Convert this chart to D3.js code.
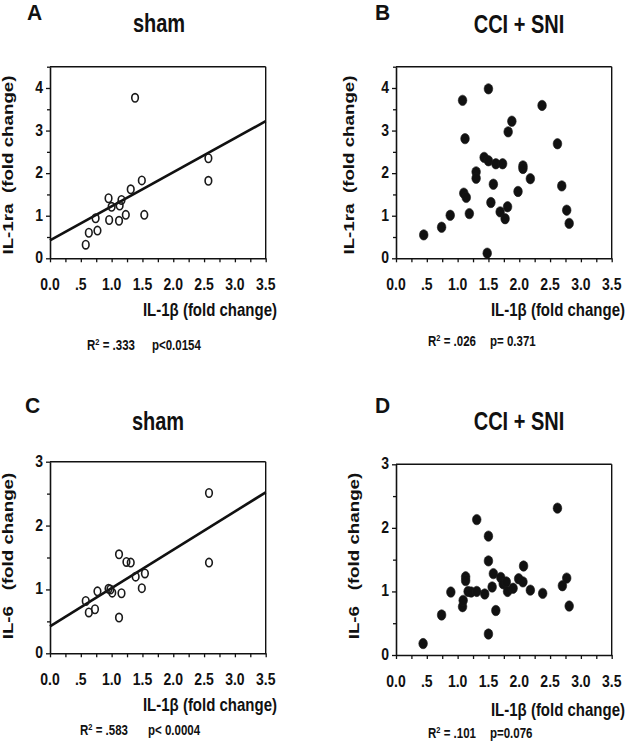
<!DOCTYPE html>
<html><head><meta charset="utf-8">
<script src="https://cdn.jsdelivr.net/npm/d3@7"></script>
<style>
body{margin:0;background:#fff}
svg{display:block}
text{font-family:"Liberation Sans",Arial,Helvetica,sans-serif;font-weight:bold;fill:#111;white-space:pre}
</style>
</head><body>
<svg id="chart" width="627" height="743"></svg>
<script>
// ---------- data ----------
const xTickValues = [0, 0.5, 1, 1.5, 2, 2.5, 3, 3.5];
const xTickLabels = ["0.0", ".5", "1.0", "1.5", "2.0", "2.5", "3.0", "3.5"];
const yTicksIL1ra = [0, 1, 2, 3, 4];
const yTicksIL6 = [0, 1, 2, 3];

// A: sham, IL-1β vs IL-1ra
const aX = [1.38, 2.57, 2.57, 1.49, 1.31, 0.95, 1.16, 1.00, 1.13, 0.74, 0.96, 1.12, 1.23, 1.53, 0.63, 0.77, 0.58];
const aY = [3.77, 2.35, 1.82, 1.83, 1.62, 1.41, 1.37, 1.21, 1.24, 0.94, 0.90, 0.88, 1.02, 1.02, 0.60, 0.65, 0.32];
const aFit = [0.42, 0.80]; // intercept, slope

// B: CCI + SNI, IL-1β vs IL-1ra
const bX = [0.45, 0.74, 0.88, 1.08, 1.12, 1.10, 1.14, 1.19, 1.30, 1.30, 1.50, 1.43, 1.50, 1.62, 1.73, 1.58, 1.54, 1.48, 1.69, 1.77, 1.81, 1.82, 1.88, 1.98, 2.06, 2.06, 2.18, 2.37, 2.62, 2.69, 2.77, 2.81];
const bY = [0.55, 0.73, 1.01, 3.71, 2.81, 1.53, 1.43, 1.05, 2.03, 1.88, 3.98, 2.37, 2.29, 2.22, 2.22, 1.74, 1.31, 0.12, 1.09, 0.93, 1.21, 2.97, 3.22, 1.57, 2.17, 2.11, 1.87, 3.59, 2.69, 1.70, 1.13, 0.82];

// C: sham, IL-1β vs IL-6
const cX = [2.58, 2.58, 1.12, 1.24, 1.31, 1.54, 1.39, 1.49, 0.95, 0.98, 1.01, 1.16, 0.77, 0.58, 0.63, 0.73, 1.12];
const cY = [2.51, 1.42, 1.55, 1.43, 1.42, 1.25, 1.20, 1.02, 1.01, 1.00, 0.95, 0.94, 0.97, 0.82, 0.64, 0.69, 0.56];
const cFit = [0.42, 0.60];

// D: CCI + SNI, IL-1β vs IL-6
const dX = [0.44, 0.74, 0.89, 1.08, 1.09, 1.13, 1.13, 1.17, 1.22, 1.31, 1.31, 1.44, 1.50, 1.50, 1.50, 1.56, 1.58, 1.62, 1.70, 1.74, 1.79, 1.81, 1.90, 1.99, 2.07, 2.06, 2.18, 2.38, 2.62, 2.70, 2.77, 2.81];
const dY = [0.18, 0.63, 0.99, 0.76, 0.86, 1.23, 1.17, 1.00, 0.99, 2.13, 1.00, 0.96, 1.87, 1.48, 0.33, 1.07, 1.28, 0.70, 1.22, 1.12, 1.15, 1.00, 1.05, 1.20, 1.40, 1.15, 1.02, 0.97, 2.31, 1.09, 1.21, 0.77];

const panelLetters = ["A", "B", "C", "D"];
const panelTitles = ["sham", "CCI + SNI", "sham", "CCI + SNI"];
const yTitles = ["IL-1ra  (fold change)", "IL-1ra  (fold change)", "IL-6   (fold change)", "IL-6   (fold change)"];
const xTitle = "IL-1β (fold change)";
const r2Labels = [".333", ".026", ".583", ".101"];
const pLabels = ["p<0.0154", "p= 0.371", "p< 0.0004", "p=0.076"];

// ---------- layout ----------
const layout = [
  {left: 50, right: 265.7, top: 66.7, bottom: 258.3, ymax: 4.5, yt: yTicksIL1ra, xs: aX, ys: aY, fit: aFit, filled: false,
   letter: [27, 20], title: [159, 32], ytl: [12.5, 165], xtl: [277, 316], stats: [87, 152, 350]},
  {left: 396, right: 611.7, top: 66.7, bottom: 258.3, ymax: 4.5, yt: yTicksIL1ra, xs: bX, ys: bY, fit: null, filled: true,
   letter: [375, 20], title: [519, 33], ytl: [354, 165], xtl: [625, 316], stats: [428, 490, 346]},
  {left: 50, right: 265.7, top: 461.7, bottom: 653.3, ymax: 3, yt: yTicksIL6, xs: cX, ys: cY, fit: cFit, filled: false,
   letter: [25, 413], title: [158, 430], ytl: [12.5, 556], xtl: [277, 711], stats: [80, 148, 735]},
  {left: 396, right: 611.7, top: 464.3, bottom: 655, ymax: 3, yt: yTicksIL6, xs: dX, ys: dY, fit: null, filled: true,
   letter: [375, 413], title: [519, 430], ytl: [359, 556], xtl: [625, 716], stats: [428, 490, 738]}
];

const SY = 1.25; // vertical stretch of lettering in the original
const svg = d3.select("#chart");
svg.append("rect").attr("width", 627).attr("height", 743).attr("fill", "#fff");

function stext(g, x, y, str, size, anchor, sy, rotate) {
  const tr = rotate
    ? `translate(${x},${y}) rotate(-90) scale(${sy},1)`
    : `translate(${x},${y}) scale(1,${sy})`;
  return g.append("text").attr("transform", tr).attr("font-size", size)
    .attr("text-anchor", anchor).attr("xml:space", "preserve").text(str);
}

layout.forEach((L, i) => {
  const g = svg.append("g");
  const x = d3.scaleLinear().domain([0, 3.5]).range([L.left, L.right]);
  const y = d3.scaleLinear().domain([0, L.ymax]).range([L.bottom, L.top]);

  // frame (top + right)
  g.append("line").attr("x1", L.left).attr("x2", L.right).attr("y1", L.top).attr("y2", L.top)
    .attr("stroke", "#111").attr("stroke-width", 1.4);
  g.append("line").attr("x1", L.right).attr("x2", L.right).attr("y1", L.top).attr("y2", L.bottom)
    .attr("stroke", "#111").attr("stroke-width", 1.4);

  // x axis
  const xa = g.append("g").attr("transform", `translate(0,${L.bottom})`)
    .call(d3.axisBottom(x).tickValues(d3.range(0, 3.51, 0.25)).tickSize(4).tickSizeOuter(0).tickFormat(""));
  xa.select(".domain").attr("stroke", "#111").attr("stroke-width", 1.6);
  xa.selectAll(".tick line").attr("stroke", "#111").attr("stroke-width", 1.3);

  // y axis
  const ya = g.append("g").attr("transform", `translate(${L.left},0)`)
    .call(d3.axisLeft(y).tickValues(d3.range(0, L.ymax + 0.01, 0.5)).tickSize(4).tickSizeOuter(0).tickFormat(""));
  ya.select(".domain").attr("stroke", "#111").attr("stroke-width", 1.6);
  ya.selectAll(".tick line").attr("stroke", "#111").attr("stroke-width", 1.3)
    .attr("x2", d => (Math.abs(d - Math.round(d)) < 1e-6 ? -4 : -3));

  // tick labels
  xTickValues.forEach((v, k) => stext(g, x(v), L.bottom + 31.5, xTickLabels[k], 14, "middle", SY * 0.95, false));
  L.yt.forEach(v => stext(g, L.left - 7, y(v) + 5, String(v), 14, "end", SY * 0.95, false));

  // regression line
  if (L.fit) {
    const [b0, b1] = L.fit;
    g.append("path").datum([0, 3.5])
      .attr("d", d3.line().x(d => x(d)).y(d => y(b0 + b1 * d)))
      .attr("stroke", "#111").attr("stroke-width", 2.6).attr("fill", "none");
  }

  // points
  g.selectAll("ellipse.pt").data(L.xs.map((v, k) => [v, L.ys[k]])).join("ellipse")
    .attr("class", "pt")
    .attr("cx", d => x(d[0])).attr("cy", d => y(d[1]))
    .attr("rx", L.filled ? 4.3 : 3.3).attr("ry", L.filled ? 5.2 : 4.2)
    .attr("fill", L.filled ? "#111" : "none")
    .attr("stroke", "#1a1a1a").attr("stroke-width", L.filled ? 0.6 : 1.6);

  // texts
  stext(g, L.letter[0], L.letter[1], panelLetters[i], 21, "start", 1.05, false);
  stext(g, L.title[0], L.title[1], panelTitles[i], 20, "middle", SY, false);
  stext(g, L.ytl[0], L.ytl[1], yTitles[i], 15, "middle", SY, true);
  stext(g, L.xtl[0], L.xtl[1], xTitle, 15, "end", SY, false);

  const st = stext(g, L.stats[0], L.stats[2], "R", 11.5, "start", 1.2, false);
  st.append("tspan").attr("font-size", 7.5).attr("dy", -4.5).text("2");
  st.append("tspan").attr("dy", 4.5).text(" = " + r2Labels[i]);
  stext(g, L.stats[1], L.stats[2], pLabels[i], 11.5, "start", 1.2, false);
});
</script>
</body></html>
